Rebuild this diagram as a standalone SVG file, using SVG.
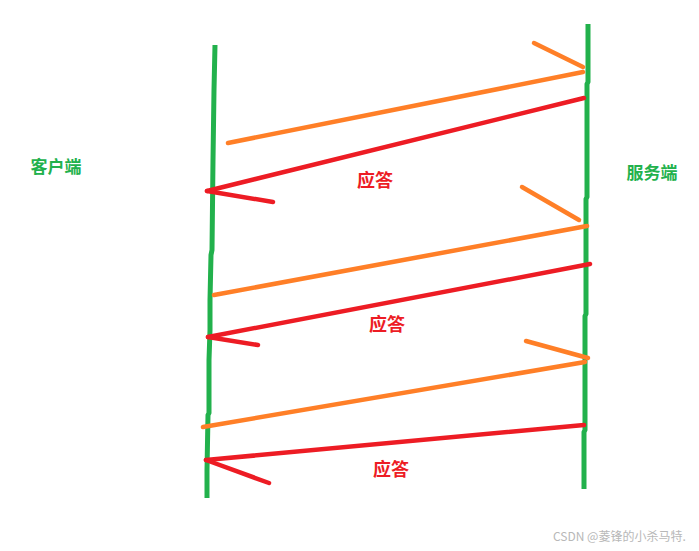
<svg xmlns="http://www.w3.org/2000/svg" width="699" height="551" viewBox="0 0 699 551">
<style>
.life{fill:none;stroke:#22b14c;stroke-width:5;stroke-linejoin:round}
.req{fill:none;stroke:#ff7f27;stroke-width:4.5;stroke-linecap:round}
.resp{fill:none;stroke:#ed1c24;stroke-width:4.5;stroke-linecap:round}
.role{font-family:"Noto Sans CJK SC","Liberation Sans",sans-serif;font-weight:bold;font-size:17px;fill:#22b14c;text-anchor:middle}
.lbl{font-family:"Noto Sans CJK SC","Liberation Sans",sans-serif;font-weight:bold;font-size:18px;fill:#ed1c24;text-anchor:middle}
.wm{font-family:"Noto Sans CJK SC","Liberation Sans",sans-serif;font-size:12px;fill:#b8b8b8}
</style>
<rect width="699" height="551" fill="#ffffff"/>
<g id="client">
<polyline class="life" points="215,45 214,90 213,160 212,250 211,255 210,300 210,330 209,360 209,413 208,415 207,470 207,498"/>
<text class="role" x="56" y="173">客户端</text>
</g>
<g id="server">
<polyline class="life" points="588,24 588,82 587,84 587,197 586,199 586,314 585,316 585,430 584,432 584,489"/>
<text class="role" x="652" y="179">服务端</text>
</g>
<g id="connectors">
<line class="req" x1="534" y1="43" x2="583" y2="67"/>
<line class="req" x1="228" y1="143" x2="583" y2="72"/>
<line class="resp" x1="584" y1="98" x2="207" y2="191"/>
<line class="resp" x1="207" y1="191" x2="273" y2="202"/>
<line class="req" x1="522" y1="187" x2="579" y2="220"/>
<line class="req" x1="587" y1="226" x2="214" y2="295"/>
<line class="resp" x1="590" y1="264" x2="208" y2="337"/>
<line class="resp" x1="208" y1="337" x2="258" y2="345"/>
<line class="req" x1="526" y1="341" x2="588" y2="358"/>
<line class="req" x1="585" y1="362" x2="203" y2="427"/>
<line class="resp" x1="584" y1="425" x2="206" y2="460"/>
<line class="resp" x1="206" y1="460" x2="269" y2="483"/>
</g>
<g id="labels">
<text class="lbl" x="375" y="187">应答</text>
<text class="lbl" x="387" y="331">应答</text>
<text class="lbl" x="391" y="476">应答</text>
</g>
<text class="wm" x="553" y="541">CSDN @菱锋的小杀马特.</text>
</svg>
